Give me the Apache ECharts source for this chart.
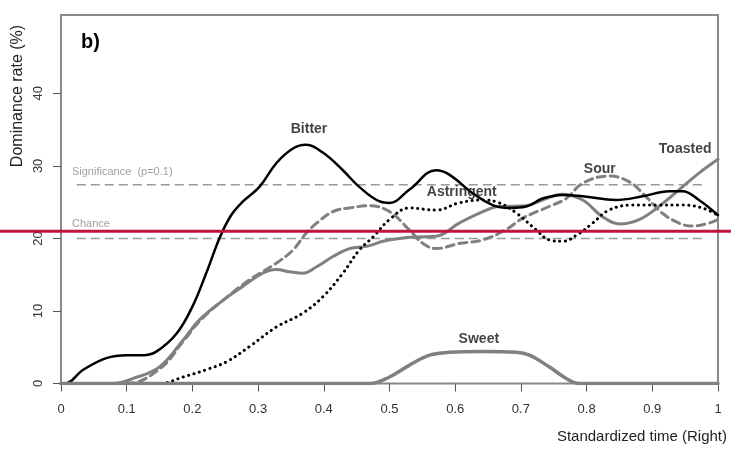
<!DOCTYPE html>
<html>
<head>
<meta charset="utf-8">
<script src="https://cdn.jsdelivr.net/npm/echarts@6/dist/echarts.min.js"></script>
<style>
  html, body { margin: 0; padding: 0; background: #fff; }
  #chart { width: 731px; height: 450px; }
</style>
</head>
<body>
<div id="chart"></div>
<script>
// standardized time points and dominance rates (%)
const tBitter = [0, 0.006, 0.034, 0.069, 0.1, 0.125, 0.145, 0.176, 0.2, 0.221, 0.242, 0.259, 0.277, 0.302, 0.328, 0.353, 0.373, 0.399, 0.429, 0.454, 0.485, 0.5, 0.53, 0.571, 0.591, 0.627, 0.657, 0.682, 0.708, 0.733, 0.763, 0.794, 0.845, 0.885, 0.926, 0.946, 0.971, 1]
const vBitter = [0, 0, 1.9, 3.5, 3.9, 3.9, 4.4, 6.9, 10.6, 15.2, 20.2, 23.2, 25.1, 27.1, 30.4, 32.4, 32.9, 31.8, 29.4, 27.1, 25.1, 24.9, 26.7, 29.4, 28.8, 26.2, 24.6, 24.2, 24.4, 25.5, 26, 25.8, 25.3, 25.8, 26.5, 26.5, 25.3, 23.2]

const tAstringent = [0, 0.15, 0.186, 0.221, 0.252, 0.287, 0.328, 0.368, 0.399, 0.429, 0.454, 0.475, 0.5, 0.53, 0.571, 0.606, 0.642, 0.667, 0.693, 0.723, 0.743, 0.763, 0.789, 0.809, 0.834, 0.87, 0.905, 0.946, 0.976, 1]
const vAstringent = [0, 0, 0.9, 1.9, 3.0, 5.1, 7.8, 9.7, 12, 15.2, 18.4, 20.2, 22.6, 24.2, 23.9, 24.9, 25.3, 24.9, 23.5, 21.2, 19.8, 19.6, 20.7, 22.1, 23.9, 24.6, 24.6, 24.6, 24.2, 23.2]

const tSour = [0, 0.1, 0.15, 0.186, 0.211, 0.247, 0.287, 0.328, 0.353, 0.373, 0.389, 0.414, 0.439, 0.47, 0.5, 0.53, 0.551, 0.571, 0.606, 0.642, 0.677, 0.703, 0.743, 0.769, 0.794, 0.834, 0.865, 0.89, 0.915, 0.941, 0.961, 0.986, 1]
const vSour = [0, 0, 2.0, 5.8, 8.6, 11.5, 14.3, 16.6, 18.4, 20.7, 22.1, 23.7, 24.2, 24.5, 23.7, 21.2, 19.3, 18.6, 19.3, 19.8, 21.2, 22.8, 24.4, 25.5, 27.6, 28.6, 27.8, 25.8, 23.5, 22.1, 21.7, 22.1, 22.6]

const tToasted = [0, 0.08, 0.11, 0.15, 0.186, 0.211, 0.247, 0.277, 0.307, 0.328, 0.348, 0.368, 0.389, 0.414, 0.439, 0.465, 0.49, 0.515, 0.541, 0.571, 0.606, 0.642, 0.667, 0.708, 0.733, 0.763, 0.794, 0.824, 0.85, 0.88, 0.91, 0.946, 0.971, 1]
const vToasted = [0, 0, 0.7, 2.3, 6.0, 8.8, 11.5, 13.4, 15.2, 15.7, 15.4, 15.2, 16.1, 17.5, 18.6, 18.9, 19.6, 20, 20.2, 20.3, 22.1, 23.7, 24.4, 24.5, 25.3, 26.1, 25.3, 23.0, 22.0, 22.6, 24.4, 27.1, 29, 30.9]

const tSweet = [0, 0.47, 0.5, 0.53, 0.561, 0.591, 0.642, 0.693, 0.713, 0.743, 0.769, 0.789, 1]
const vSweet = [0, 0, 0.9, 2.5, 3.9, 4.3, 4.4, 4.3, 3.9, 2.3, 0.7, 0, 0]

// reference levels
const significanceLevel = 27.4
const chanceLevel = 20
const refSpan = [0.024, 0.982]
const redLevel = 21

// curve names and where they are written
const curveLabels = ['Bitter', 'Astringent', 'Sour', 'Toasted', 'Sweet']
const curveLabelT = [0.3775, 0.61, 0.82, 0.95, 0.636]
const curveLabelV = [35.1, 26.4, 29.6, 32.3, 6.1]

const noteLabels = ['Significance  (p=0.1)', 'Chance']
const noteLabelT = [0.0167, 0.0167]
const noteLabelV = [29.2, 22.0]

const xTicks = [0, 0.1, 0.2, 0.3, 0.4, 0.5, 0.6, 0.7, 0.8, 0.9, 1]
const yTicks = [0, 10, 20, 30, 40]

const pairs = (t, v) => t.map((x, i) => [x, v[i]])

const GRAY = '#808080'
const FONT = '"Liberation Sans", Arial, sans-serif'

let chart = echarts.init(document.getElementById('chart'), null, { renderer: 'canvas' })

function refLine(level) {
    return {
        type: 'line',
        data: [[refSpan[0], level], [refSpan[1], level]],
        symbol: 'none',
        silent: true,
        lineStyle: { color: '#999', width: 1.5, type: [9, 5] },
        z: 1
    }
}

function curve(name, t, v, color, width, type, z) {
    return {
        name: name,
        type: 'line',
        data: pairs(t, v),
        symbol: 'none',
        smooth: 0.4,
        lineStyle: { color: color, width: width, type: type, cap: 'round', join: 'round' },
        z: z
    }
}

let option = {
    backgroundColor: '#fff',
    animation: false,
    title: {
        text: 'b)',
        left: 76,
        top: 27,
        textStyle: { fontFamily: FONT, fontSize: 20, fontWeight: 'bold', color: '#000' }
    },
    grid: {
        left: 61,
        right: 13,
        top: 15,
        bottom: 66.5,
        show: true,
        borderColor: '#8a8a8a',
        borderWidth: 2,
        backgroundColor: 'transparent'
    },
    xAxis: {
        type: 'value',
        min: 0,
        max: 1,
        interval: 0.1,
        splitLine: { show: false },
        axisLine: { show: false },
        axisTick: { show: true, inside: false, length: 8, lineStyle: { color: '#555', width: 1 }, customValues: xTicks },
        axisLabel: {
            show: true, margin: 19, color: '#333', fontSize: 13, fontFamily: FONT,
            customValues: xTicks,
            formatter: v => (v === 0 || v === 1) ? String(v) : v.toFixed(1)
        }
    },
    yAxis: {
        type: 'value',
        min: 0,
        max: 50.8,
        splitLine: { show: false },
        axisLine: { show: false },
        axisTick: { show: true, length: 8, lineStyle: { color: '#555', width: 1 }, customValues: yTicks },
        axisLabel: {
            show: true, rotate: 90, margin: 16, color: '#333', fontSize: 13, fontFamily: FONT,
            customValues: yTicks
        }
    },
    series: [
        refLine(significanceLevel),
        refLine(chanceLevel),
        curve('Bitter', tBitter, vBitter, '#000', 2.5, 'solid', 5),
        curve('Astringent', tAstringent, vAstringent, '#000', 3, [0.1, 5.5], 4),
        curve('Sour', tSour, vSour, GRAY, 3, [8, 5], 3),
        curve('Toasted', tToasted, vToasted, GRAY, 3, 'solid', 3),
        curve('Sweet', tSweet, vSweet, GRAY, 3.5, 'solid', 6),
        {
            type: 'scatter',
            symbolSize: 0,
            silent: true,
            z: 10,
            data: curveLabels.map((n, i) => ({ name: n, value: [curveLabelT[i], curveLabelV[i]] })),
            label: {
                show: true, position: 'inside', formatter: '{b}',
                color: '#111', fontSize: 14, fontWeight: 'bold', fontFamily: FONT
            }
        },
        {
            type: 'scatter',
            symbolSize: 0,
            silent: true,
            z: 10,
            data: noteLabels.map((n, i) => ({ name: n, value: [noteLabelT[i], noteLabelV[i]] })),
            label: {
                show: true, position: 'right', distance: 0, formatter: '{b}',
                color: '#888', fontSize: 11, fontFamily: FONT
            }
        }
    ]
}

chart.setOption(option, true)

// axis titles and the red overlay line, placed from the axis scales
let redY = chart.convertToPixel({ yAxisIndex: 0 }, redLevel)
chart.setOption({
    graphic: [
        {
            type: 'line',
            shape: { x1: 0, y1: redY, x2: 731, y2: redY },
            style: { stroke: '#C0143C', lineWidth: 3 },
            z: 100
        },
        {
            type: 'text',
            x: 18,
            y: 96,
            rotation: Math.PI / 2,
            style: {
                text: 'Dominance rate (%)', fill: '#222', font: '16px ' + FONT,
                textAlign: 'center', textVerticalAlign: 'middle'
            }
        },
        {
            type: 'text',
            x: 727,
            y: 437,
            style: {
                text: 'Standardized time (Right)', fill: '#222', font: '15px ' + FONT,
                textAlign: 'right', textVerticalAlign: 'middle'
            }
        }
    ]
})
</script>
</body>
</html>
